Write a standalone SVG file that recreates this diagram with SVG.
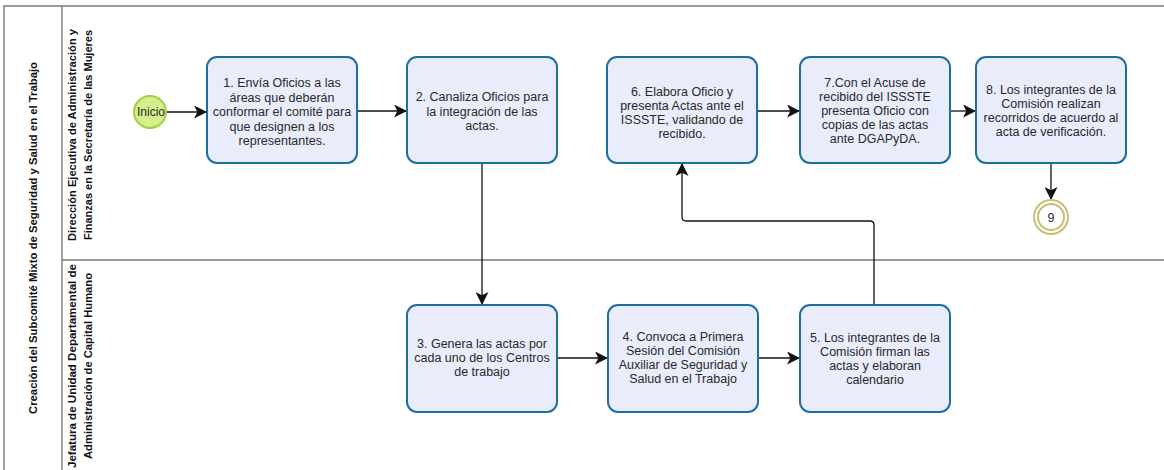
<svg xmlns="http://www.w3.org/2000/svg" width="1164" height="470" viewBox="0 0 1164 470">
  <style>
    .frame { fill: none; stroke: #7a7a7a; stroke-width: 1.4; }
    .task rect { fill: #e9ecfb; stroke: #1d6fa0; stroke-width: 2; }
    .task text, .evt text { font-family: "Liberation Sans", Arial, sans-serif; font-size: 12.5px; fill: #2a2a2a; text-anchor: middle; }
    .lane { font-family: "Liberation Sans", Arial, sans-serif; font-size: 11.5px; font-weight: bold; fill: #111; text-anchor: middle; }
    .conn path { fill: none; stroke: #111; stroke-width: 1.3; }
  </style>
  <defs>
    <marker id="arrow" viewBox="0 0 12 12" refX="11" refY="6" markerWidth="13" markerHeight="13" markerUnits="userSpaceOnUse" orient="auto">
      <path d="M0,0 L12,6 L0,12 L3,6 Z" fill="#111"/>
    </marker>
  </defs>

  <rect width="1164" height="470" fill="#ffffff"/>

  <!-- pool and lanes -->
  <g id="pool">
    <path class="frame" d="M4,470 V6 H1164 M62,6 V470 M62,260 H1164"/>
    <text class="lane" transform="translate(37,238) rotate(-90)" textLength="352" lengthAdjust="spacingAndGlyphs">Creación del Subcomité Mixto de Seguridad y Salud en el Trabajo</text>
  </g>
  <g id="lane1">
    <text class="lane" transform="translate(76,135) rotate(-90)" textLength="212" lengthAdjust="spacingAndGlyphs">Dirección Ejecutiva de Administración y</text>
    <text class="lane" transform="translate(92,135) rotate(-90)" textLength="210" lengthAdjust="spacingAndGlyphs">Finanzas en la Secretaría de las Mujeres</text>
  </g>
  <g id="lane2">
    <text class="lane" transform="translate(76,366) rotate(-90)" textLength="204" lengthAdjust="spacingAndGlyphs">Jefatura de Unidad Departamental de</text>
    <text class="lane" transform="translate(92,366) rotate(-90)" textLength="186" lengthAdjust="spacingAndGlyphs">Administración de Capital Humano</text>
  </g>

  <!-- connectors -->
  <g id="connectors" class="conn">
    <path d="M166,112 H206" marker-end="url(#arrow)"/>
    <path d="M357,111 H406" marker-end="url(#arrow)"/>
    <path d="M482,163 V304" marker-end="url(#arrow)"/>
    <path d="M557,358 H607" marker-end="url(#arrow)"/>
    <path d="M758,358 H799" marker-end="url(#arrow)"/>
    <path d="M874,305 V225 Q874,221 870,221 H686 Q682,221 682,217 V164" marker-end="url(#arrow)"/>
    <path d="M757,111 H799" marker-end="url(#arrow)"/>
    <path d="M950,111 H975" marker-end="url(#arrow)"/>
    <path d="M1051,163 V199" marker-end="url(#arrow)"/>
  </g>

  <!-- events -->
  <g id="start" class="evt">
    <circle cx="150" cy="112" r="16" fill="#d7ee8e" stroke="#a5cf40" stroke-width="2"/>
    <text x="151" y="116" style="font-size:12px">Inicio</text>
  </g>
  <g id="end" class="evt">
    <circle cx="1051" cy="217" r="17" fill="#ffffff" stroke="#c9bf74" stroke-width="2"/>
    <circle cx="1051" cy="217" r="13" fill="#ffffff" stroke="#c9bf74" stroke-width="2"/>
    <text x="1051" y="221.5">9</text>
  </g>

  <!-- tasks -->
  <g id="task1" class="task">
    <rect x="207" y="57" width="150" height="106" rx="10"/>
    <text x="282" y="87">1. Envía Oficios a las</text>
    <text x="282" y="101.5">áreas que deberán</text>
    <text x="282" y="116">conformar el comité para</text>
    <text x="282" y="130.5">que designen a los</text>
    <text x="282" y="145">representantes.</text>
  </g>
  <g id="task2" class="task">
    <rect x="407" y="57" width="150" height="106" rx="10"/>
    <text x="482" y="101">2. Canaliza Oficios para</text>
    <text x="482" y="115.5">la integración de las</text>
    <text x="482" y="130">actas.</text>
  </g>
  <g id="task3" class="task">
    <rect x="407" y="305" width="150" height="107" rx="10"/>
    <text x="482" y="348">3. Genera las actas por</text>
    <text x="482" y="362">cada uno de los Centros</text>
    <text x="482" y="376">de trabajo</text>
  </g>
  <g id="task4" class="task">
    <rect x="608" y="305" width="150" height="107" rx="10"/>
    <text x="683" y="341">4. Convoca a Primera</text>
    <text x="683" y="355">Sesión del Comisión</text>
    <text x="683" y="369">Auxiliar de Seguridad y</text>
    <text x="683" y="383">Salud en el Trabajo</text>
  </g>
  <g id="task5" class="task">
    <rect x="800" y="305" width="150" height="107" rx="10"/>
    <text x="875" y="342">5. Los integrantes de la</text>
    <text x="875" y="356">Comisión firman las</text>
    <text x="875" y="370">actas y elaboran</text>
    <text x="875" y="384">calendario</text>
  </g>
  <g id="task6" class="task">
    <rect x="607" y="57" width="150" height="106" rx="10"/>
    <text x="682" y="96">6. Elabora Oficio y</text>
    <text x="682" y="110">presenta Actas ante el</text>
    <text x="682" y="124">ISSSTE, validando de</text>
    <text x="682" y="138">recibido.</text>
  </g>
  <g id="task7" class="task">
    <rect x="800" y="57" width="150" height="106" rx="10"/>
    <text x="875" y="87">7.Con el Acuse de</text>
    <text x="875" y="101">recibido del ISSSTE</text>
    <text x="875" y="115">presenta Oficio con</text>
    <text x="875" y="129">copias de las actas</text>
    <text x="875" y="143">ante DGAPyDA.</text>
  </g>
  <g id="task8" class="task">
    <rect x="976" y="57" width="150" height="106" rx="10"/>
    <text x="1051" y="94">8. Los integrantes de la</text>
    <text x="1051" y="108">Comisión realizan</text>
    <text x="1051" y="122">recorridos de acuerdo al</text>
    <text x="1051" y="136">acta de verificación.</text>
  </g>
</svg>
